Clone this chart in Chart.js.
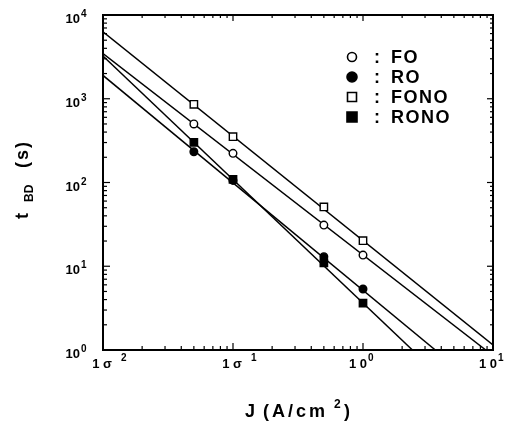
<!DOCTYPE html>
<html><head><meta charset="utf-8">
<script src="https://cdn.jsdelivr.net/npm/chart.js@4/dist/chart.umd.min.js"></script>
<style>html,body{margin:0;padding:0;background:#fff}</style>
</head><body>
<canvas id="c" width="518" height="425" style="display:block;width:518px;height:425px"></canvas>
<script>
// ---- data ----
const seriesNames = ['FO', 'RO', 'FONO', 'RONO'];
const currents = [0.05, 0.1, 0.5, 1];           // J (A/cm2)
const foTimes   = [500, 223, 31, 13.6];          // tBD (s)
const roTimes   = [233, 106, 13, 5.35];
const fonoTimes = [859, 352, 51, 20.2];
const ronoTimes = [302, 109, 11, 3.64];
// fitted lines (end points)
const foFitJ   = [0.01, 8.8];  const foFitT   = [3470, 1];
const roFitJ   = [0.01, 3.6];  const roFitT   = [1900, 1];
const fonoFitJ = [0.01, 10];   const fonoFitT = [6300, 1.15];
const ronoFitJ = [0.01, 2.4];  const ronoFitT = [3245, 1];
// tick labels
const xTickValues = [0.01, 0.1, 1, 10];
const xTickMain = ['1 σ', '1 σ', '1 0', '1 0'];
const xTickSup  = ['2', '1', '0', '1'];
const yTickValues = [1, 10, 100, 1000, 10000];
const yTickMain = ['10', '10', '10', '10', '10'];
const yTickSup  = ['0', '1', '2', '3', '4'];
const xTitleParts = ['J', '(A/cm', '2', ')'];
const yTitleParts = ['t', 'BD', '(s)'];

const pts = (xs, ys) => xs.map((v, i) => ({x: v, y: ys[i]}));
const markerStyles = [
  {style: 'circle', filled: false},
  {style: 'circle', filled: true},
  {style: 'rect', filled: false},
  {style: 'rect', filled: true}
];
const pointSeries = [foTimes, roTimes, fonoTimes, ronoTimes];
const fitSeries = [[foFitJ, foFitT], [roFitJ, roFitT], [fonoFitJ, fonoFitT], [ronoFitJ, ronoFitT]];

const datasets = [];
pointSeries.forEach((t, i) => {
  const m = markerStyles[i];
  datasets.push({
    label: seriesNames[i],
    data: pts(currents, t),
    showLine: false,
    pointStyle: m.style,
    pointRadius: m.style === 'rect' ? 5.2 : 3.8,
    pointBackgroundColor: m.filled ? '#000' : '#fff',
    pointBorderColor: '#000',
    pointBorderWidth: 1.4
  });
});
fitSeries.forEach(([j, t], i) => {
  datasets.push({
    label: seriesNames[i] + ' fit',
    data: pts(j, t),
    showLine: true,
    pointRadius: 0,
    borderColor: '#000',
    borderWidth: 1.5,
    fill: false
  });
});

function decadeTicks(lo, hi) {
  const out = [];
  for (let e = lo; e < hi; e++) for (let m = 1; m <= 9; m++) out.push([m * Math.pow(10, e), m === 1]);
  out.push([Math.pow(10, hi), true]);
  return out;
}

function drawSymbol(ctx, st, x, y, r) {
  ctx.beginPath();
  if (st.style === 'circle') ctx.arc(x, y, r, 0, Math.PI * 2);
  else ctx.rect(x - r, y - r, 2 * r, 2 * r);
  ctx.fillStyle = st.filled ? '#000' : '#fff';
  ctx.fill();
  ctx.lineWidth = 1.6;
  ctx.strokeStyle = '#000';
  ctx.stroke();
}

const deco = {
  id: 'deco',
  afterDraw(chart) {
    const {ctx, chartArea: a, scales: {x, y}} = chart;
    ctx.save();
    ctx.strokeStyle = '#000';
    ctx.fillStyle = '#000';
    // frame
    ctx.lineWidth = 2;
    ctx.strokeRect(a.left, a.top, a.right - a.left, a.bottom - a.top);
    // ticks
    ctx.lineWidth = 1.2;
    const seg = (x1, y1, x2, y2) => { ctx.beginPath(); ctx.moveTo(x1, y1); ctx.lineTo(x2, y2); ctx.stroke(); };
    for (const [v, major] of decadeTicks(-2, 1)) {
      const px = x.getPixelForValue(v);
      seg(px, a.bottom, px, a.bottom - (major ? 7 : 4));
      seg(px, a.top, px, a.top + (major ? 6 : 3));
    }
    for (const [v, major] of decadeTicks(0, 4)) {
      const py = y.getPixelForValue(v);
      seg(a.left, py, a.left + (major ? 7 : 4), py);
      seg(a.right, py, a.right - (major ? 6 : 3), py);
    }
    // y tick labels
    ctx.textBaseline = 'alphabetic';
    yTickValues.forEach((v, i) => {
      const py = y.getPixelForValue(v);
      ctx.font = 'bold 13px "Liberation Sans", Arial, sans-serif';
      ctx.textAlign = 'right';
      ctx.fillText(yTickMain[i], 80, py + 8);
      ctx.font = 'bold 10px "Liberation Sans", Arial, sans-serif';
      ctx.textAlign = 'left';
      ctx.fillText(yTickSup[i], 81, py + 2);
    });
    // x tick labels
    xTickValues.forEach((v, i) => {
      const px = x.getPixelForValue(v);
      const neg = xTickMain[i].indexOf('σ') >= 0;
      ctx.font = 'bold 13px "Liberation Sans", Arial, sans-serif';
      ctx.textAlign = 'right';
      ctx.fillText(xTickMain[i], px + (neg ? 9 : 4), 368);
      ctx.font = 'bold 10px "Liberation Sans", Arial, sans-serif';
      ctx.textAlign = 'left';
      ctx.fillText(xTickSup[i], px + (neg ? 18 : 5), 361);
    });
    // x title
    ctx.textAlign = 'left';
    ctx.font = 'bold 18px "Liberation Sans", Arial, sans-serif';
    ctx.fillText(xTitleParts[0], 245, 417);
    ctx.letterSpacing = '3px';
    ctx.fillText(xTitleParts[1], 263, 417);
    ctx.letterSpacing = '0px';
    ctx.font = 'bold 12px "Liberation Sans", Arial, sans-serif';
    ctx.fillText(xTitleParts[2], 334, 408);
    ctx.font = 'bold 18px "Liberation Sans", Arial, sans-serif';
    ctx.fillText(xTitleParts[3], 344, 417);
    // y title (rotated)
    ctx.save();
    ctx.translate(28, 219);
    ctx.rotate(-Math.PI / 2);
    ctx.font = 'bold 18px "Liberation Sans", Arial, sans-serif';
    ctx.fillText(yTitleParts[0], 0, 0);
    ctx.font = 'bold 12px "Liberation Sans", Arial, sans-serif';
    ctx.fillText(yTitleParts[1], 17, 5);
    ctx.font = 'bold 18px "Liberation Sans", Arial, sans-serif';
    ctx.letterSpacing = '2px';
    ctx.fillText(yTitleParts[2], 51, 0);
    ctx.letterSpacing = '0px';
    ctx.restore();
    // legend
    seriesNames.forEach((name, i) => {
      const cy = 57 + i * 20;
      drawSymbol(ctx, markerStyles[i], 352, cy, markerStyles[i].filled ? 5 : 4.5);
      ctx.fillStyle = '#000';
      ctx.font = 'bold 18px "Liberation Sans", Arial, sans-serif';
      ctx.textAlign = 'center';
      ctx.fillText(':', 377, cy + 6);
      ctx.textAlign = 'left';
      ctx.letterSpacing = '1.5px';
      ctx.fillText(name, 391, cy + 6);
      ctx.letterSpacing = '0px';
    });
    ctx.restore();
  }
};

new Chart(document.getElementById('c'), {
  type: 'scatter',
  data: {datasets},
  options: {
    responsive: false,
    animation: false,
    devicePixelRatio: 1,
    layout: {padding: {left: 103, right: 25, top: 15, bottom: 75}},
    plugins: {legend: {display: false}, tooltip: {enabled: false}},
    scales: {
      x: {type: 'logarithmic', min: 0.01, max: 10, display: false},
      y: {type: 'logarithmic', min: 1, max: 10000, display: false}
    }
  },
  plugins: [deco]
});
</script>
</body></html>
